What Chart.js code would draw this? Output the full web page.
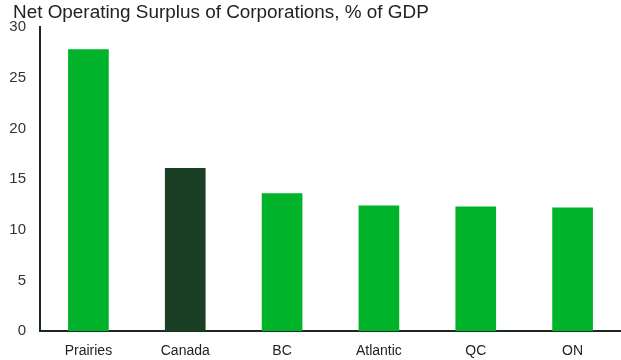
<!DOCTYPE html>
<html lang="en">
<head>
  <meta charset="UTF-8">
  <title>Net Operating Surplus of Corporations</title>
  <script src="https://cdn.jsdelivr.net/npm/chart.js"></script>
  <style>
    html, body { margin: 0; padding: 0; background: #fff; }
    #wrap { width: 621px; height: 360px; }
  </style>
</head>
<body>
  <div id="wrap"><canvas id="chartCanvas"></canvas></div>
  <script>
    // Datos
    const regions = ['Prairies', 'Canada', 'BC', 'Atlantic', 'QC', 'ON'];
    const surplus = [27.8, 16.1, 13.6, 12.4, 12.3, 12.2];
    const barColors = ['#00b32a', '#1a3f24', '#00b32a', '#00b32a', '#00b32a', '#00b32a'];
    const yTicks = [0, 5, 10, 15, 20, 25, 30];
    const titleText = 'Net Operating Surplus of Corporations, % of GDP';

    const FONT = '"Liberation Sans", Arial, sans-serif';
    Chart.defaults.font.family = FONT;
    Chart.defaults.font.size = 15;
    Chart.defaults.color = '#333';

    // Título dibujado a mano para poder colocarlo libremente
    const titlePlugin = {
      id: 'titleText',
      afterDraw(chart) {
        const c = chart.ctx;
        c.save();
        c.font = '18.9px ' + FONT;
        c.fillStyle = '#222';
        c.textAlign = 'left';
        c.textBaseline = 'middle';
        c.fillText(titleText, 13, 13);
        c.restore();
      }
    };

    new Chart(document.getElementById('chartCanvas'), {
      type: 'bar',
      data: {
        labels: regions,
        datasets: [{
          data: surplus,
          backgroundColor: barColors,
          barPercentage: 0.42,
          categoryPercentage: 1
        }]
      },
      options: {
        responsive: true,
        maintainAspectRatio: false,
        animation: false,
        layout: { padding: { left: 6, right: -5, top: 27, bottom: -12 } },
        plugins: {
          legend: { display: false },
          tooltip: { enabled: false },
          title: { display: false }
        },
        scales: {
          x: {
            grid: { display: false, drawTicks: false },
            border: { display: true, color: '#1c2a1c', width: 2 },
            ticks: { padding: 12, color: '#222', font: { size: 14 } }
          },
          y: {
            min: 0,
            max: 30,
            afterBuildTicks: axis => { axis.ticks = yTicks.map(v => ({ value: v })); },
            afterFit: axis => { axis.width = 34; },
            grid: { display: false, drawTicks: false },
            border: { display: true, color: '#1c2a1c', width: 2 },
            ticks: { padding: 14, color: '#333' }
          }
        }
      },
      plugins: [titlePlugin]
    });
  </script>
</body>
</html>
